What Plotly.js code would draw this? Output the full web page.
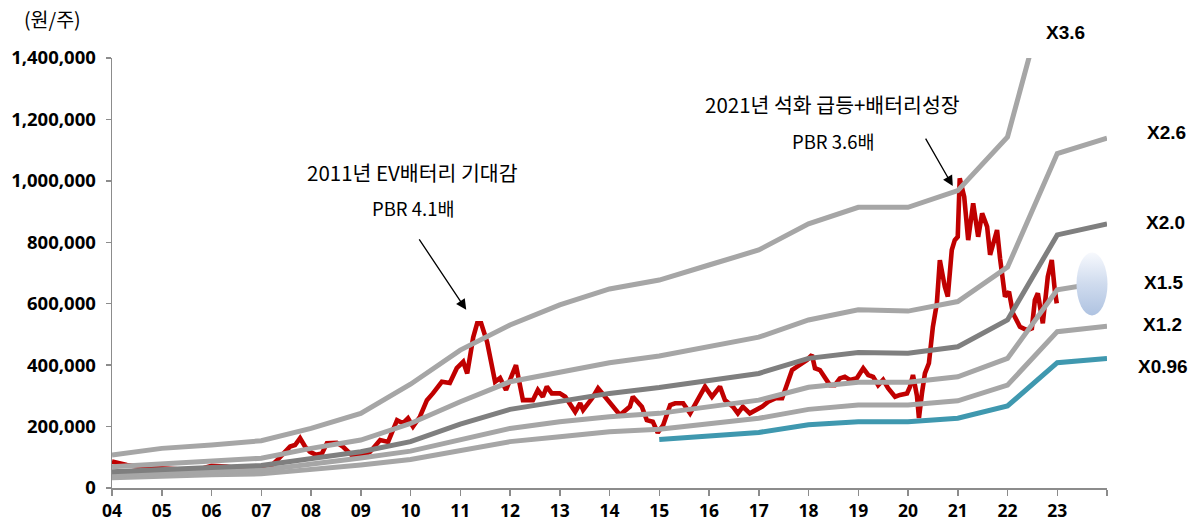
<!DOCTYPE html>
<html>
<head>
<meta charset="utf-8">
<script src="https://cdn.plot.ly/plotly-3.0.1.min.js"></script>
<style>
  html, body { margin: 0; padding: 0; background: #fff; }
  #chart { width: 1192px; height: 526px; }
</style>
</head>
<body>
<div id="chart"></div>
<script>
// ---- Band years ----
const bandYears = [2004,2005,2006,2007,2008,2009,2010,2011,2012,2013,2014,2015,2016,2017,2018,2019,2020,2021,2022,2023,2024];
// PBR band lines (원/주)
const bandX36 = [107000,129000,140000,154000,194000,243000,338000,449000,531000,596000,648000,677000,726000,775000,860000,914000,914000,968000,1143000,1740000,1800000];
const bandX26 = [69000,78000,86000,97000,129000,156000,210000,281000,346000,379000,408000,430000,460000,491000,547000,580000,576000,607000,719000,1089000,1139000];
const bandX20 = [53000,62000,67000,73000,97000,118000,151000,208000,256000,281000,308000,327000,352000,373000,422000,441000,439000,460000,547000,824000,860000];
const bandX15 = [42000,50000,54000,58000,76000,98000,120000,156000,194000,216000,232000,243000,265000,286000,328000,344000,344000,362000,422000,645000,672000];
const bandX12 = [33000,39000,43000,46000,60000,75000,93000,124000,151000,167000,183000,191000,211000,227000,256000,270000,270000,284000,335000,509000,527000];
const bandX096Years = [2015,2016,2017,2018,2019,2020,2021,2022,2023,2024];
const bandX096 = [158000,170000,181000,206000,216000,216000,227000,267000,408000,422000];

// ---- Share price (원/주), decimal years ----
const priceYears = [2004.00,2004.30,2004.60,2005.00,2005.40,2005.80,2006.00,2006.30,2006.60,2007.00,2007.20,
  2007.32,2007.44,2007.58,2007.68,2007.78,2007.88,2007.98,2008.10,2008.22,2008.32,2008.52,2008.64,2008.82,
  2009.03,2009.19,2009.39,2009.55,2009.73,2009.85,2009.95,2010.05,2010.19,2010.33,2010.45,2010.63,2010.79,
  2010.93,2011.06,2011.14,2011.26,2011.34,2011.42,2011.54,2011.70,2011.80,2011.92,2012.02,2012.12,2012.26,
  2012.46,2012.56,2012.66,2012.74,2012.84,2013.00,2013.11,2013.31,2013.41,2013.47,2013.65,2013.77,2013.91,
  2014.05,2014.21,2014.41,2014.47,2014.65,2014.75,2014.87,2014.97,2015.08,2015.22,2015.32,2015.48,2015.62,
  2015.76,2015.92,2016.06,2016.22,2016.32,2016.48,2016.58,2016.68,2016.82,2016.96,2017.07,2017.19,2017.33,
  2017.47,2017.57,2017.67,2017.77,2017.87,2017.97,2018.07,2018.13,2018.23,2018.33,2018.43,2018.53,2018.63,
  2018.73,2018.83,2018.97,2019.10,2019.20,2019.30,2019.40,2019.50,2019.60,2019.74,2019.84,2019.98,2020.04,
  2020.10,2020.18,2020.22,2020.28,2020.34,2020.42,2020.50,2020.58,2020.64,2020.74,2020.80,2020.88,2020.94,
  2021.00,2021.04,2021.13,2021.21,2021.31,2021.41,2021.49,2021.59,2021.65,2021.79,2021.85,2021.95,2022.03,
  2022.11,2022.25,2022.39,2022.49,2022.55,2022.61,2022.71,2022.81,2022.89,2022.95,2022.99];
const priceValues = [86000,75000,68000,65000,60000,63000,72000,70000,62000,65000,72000,
  91000,110000,135000,140000,162000,135000,118000,108000,112000,146000,147000,135000,107000,
  105000,118000,156000,150000,221000,211000,227000,200000,232000,286000,308000,346000,342000,
  390000,411000,373000,490000,536000,536000,475000,346000,358000,319000,360000,400000,286000,
  286000,319000,297000,330000,308000,308000,297000,248000,276000,254000,292000,325000,297000,
  265000,238000,265000,297000,265000,221000,216000,180000,205000,270000,276000,276000,243000,
  286000,330000,297000,330000,286000,265000,243000,265000,243000,254000,265000,281000,292000,
  292000,335000,384000,395000,406000,417000,433000,390000,384000,357000,335000,335000,357000,
  362000,352000,357000,390000,368000,362000,335000,352000,325000,297000,303000,308000,330000,
  368000,300000,228000,308000,373000,406000,525000,601000,742000,655000,623000,775000,807000,
  818000,1008000,948000,807000,927000,818000,894000,851000,759000,840000,748000,623000,639000,
  569000,525000,514000,520000,612000,634000,536000,688000,742000,645000,601000];

// ---- Tick labels ----
const xTickVals = [2004,2005,2006,2007,2008,2009,2010,2011,2012,2013,2014,2015,2016,2017,2018,2019,2020,2021,2022,2023,2024];
const xTickText = ['04','05','06','07','08','09','10','11','12','13','14','15','16','17','18','19','20','21','22','23',''];
const yTickVals = [0,200000,400000,600000,800000,1000000,1200000,1400000];

const GRAY = '#A6A6A6', DARK = '#7F7F7F', TEAL = '#3F98AF', RED = '#C00000';
const KR = '"Noto Sans CJK KR", "Noto Sans", sans-serif';
const BOLD = '"Noto Sans", "Liberation Sans", sans-serif';
const NARROW = '"Liberation Sans Narrow", "Arial Narrow", "Liberation Sans", sans-serif';

const traces = [
  {x: priceYears, y: priceValues, mode: 'lines', line: {color: RED, width: 4.6}, name: '주가'},
  {x: bandYears, y: bandX12, mode: 'lines', line: {color: GRAY, width: 5}, name: 'X1.2'},
  {x: bandYears, y: bandX15, mode: 'lines', line: {color: GRAY, width: 5}, name: 'X1.5'},
  {x: bandYears, y: bandX20, mode: 'lines', line: {color: DARK, width: 5}, name: 'X2.0'},
  {x: bandYears, y: bandX26, mode: 'lines', line: {color: GRAY, width: 5}, name: 'X2.6'},
  {x: bandYears, y: bandX36, mode: 'lines', line: {color: GRAY, width: 5}, name: 'X3.6'},
  {x: bandX096Years, y: bandX096, mode: 'lines', line: {color: TEAL, width: 5}, name: 'X0.96'}
];

const L = 112, R = 1107, T = 58, B = 488;
const px = v => (v - L) / (R - L);
const py = v => (B - v) / (B - T);

function lab(text, xp, yp, size, family, weight) {
  return {text: text, xref: 'paper', yref: 'paper', x: px(xp), y: py(yp), xanchor: 'center', yanchor: 'middle',
          showarrow: false, font: {family: family, size: size, color: '#000', weight: weight || 'normal'}};
}

const annotations = [
  lab('(원/주)', 52, 18, 19.5, KR),
  lab('2011년 EV배터리 기대감', 412, 172, 20.5, KR),
  lab('PBR 4.1배', 413, 208, 18.5, KR),
  lab('2021년 석화 급등+배터리성장', 832, 104, 20.5, KR),
  lab('PBR 3.6배', 833, 141, 18.5, KR),
  lab('X3.6', 1065, 32, 19, NARROW, 'bold'),
  lab('X2.6', 1166, 132, 19, NARROW, 'bold'),
  lab('X2.0', 1165, 222, 19, NARROW, 'bold'),
  lab('X1.5', 1164, 282, 19, NARROW, 'bold'),
  lab('X1.2', 1162, 324, 19, NARROW, 'bold'),
  lab('X0.96', 1163, 366, 19, NARROW, 'bold'),
  {x: 2011.12, y: 580000, xref: 'x', yref: 'y', text: '', showarrow: true, arrowhead: 2, arrowsize: 1.6,
   arrowwidth: 1.3, arrowcolor: '#000', ax: -48, ay: -72},
  {x: 2020.90, y: 983000, xref: 'x', yref: 'y', text: '', showarrow: true, arrowhead: 2, arrowsize: 1.6,
   arrowwidth: 1.3, arrowcolor: '#000', ax: -28, ay: -49}
];

const ellSvg = "<svg xmlns='http://www.w3.org/2000/svg' width='32' height='64' viewBox='0 0 32 64'>" +
  "<defs><linearGradient id='g' x1='0' y1='0' x2='0' y2='1'>" +
  "<stop offset='0' stop-color='#F7F9FD'/><stop offset='0.5' stop-color='#CFDBEE'/><stop offset='1' stop-color='#AFC3E1'/>" +
  "</linearGradient></defs><ellipse cx='16' cy='32' rx='15.5' ry='31.5' fill='url(#g)'/></svg>";

const layout = {
  width: 1192, height: 526,
  margin: {l: L, r: 1192 - R, t: T, b: 526 - B, pad: 0},
  paper_bgcolor: '#fff', plot_bgcolor: '#fff',
  showlegend: false,
  hovermode: false,
  xaxis: {
    type: 'linear', range: [2004, 2024], tickvals: xTickVals, ticktext: xTickText,
    showgrid: false, zeroline: false, showline: true, linecolor: '#8C8C8C', linewidth: 1.5,
    ticks: 'outside', ticklen: 6, tickwidth: 1.5, tickcolor: '#8C8C8C',
    tickfont: {family: BOLD, size: 17.5, color: '#000', weight: 'bold'}
  },
  yaxis: {
    range: [0, 1400000], tickvals: yTickVals, tickformat: ',',
    showgrid: false, zeroline: false, showline: true, linecolor: '#8C8C8C', linewidth: 1.5,
    ticks: 'outside', ticklen: 5, tickwidth: 1.5, tickcolor: '#8C8C8C', ticklabelstandoff: 6,
    tickfont: {family: BOLD, size: 18.5, color: '#000', weight: 'bold'}
  },
  annotations: annotations,
  images: [{
    source: 'data:image/svg+xml;charset=utf-8,' + encodeURIComponent(ellSvg),
    xref: 'paper', yref: 'paper', x: px(1076), y: py(252), sizex: 32 / (R - L), sizey: 64 / (B - T),
    xanchor: 'left', yanchor: 'top', sizing: 'stretch', layer: 'above'
  }]
};

Plotly.newPlot('chart', traces, layout, {staticPlot: true, displayModeBar: false});
</script>
</body>
</html>
